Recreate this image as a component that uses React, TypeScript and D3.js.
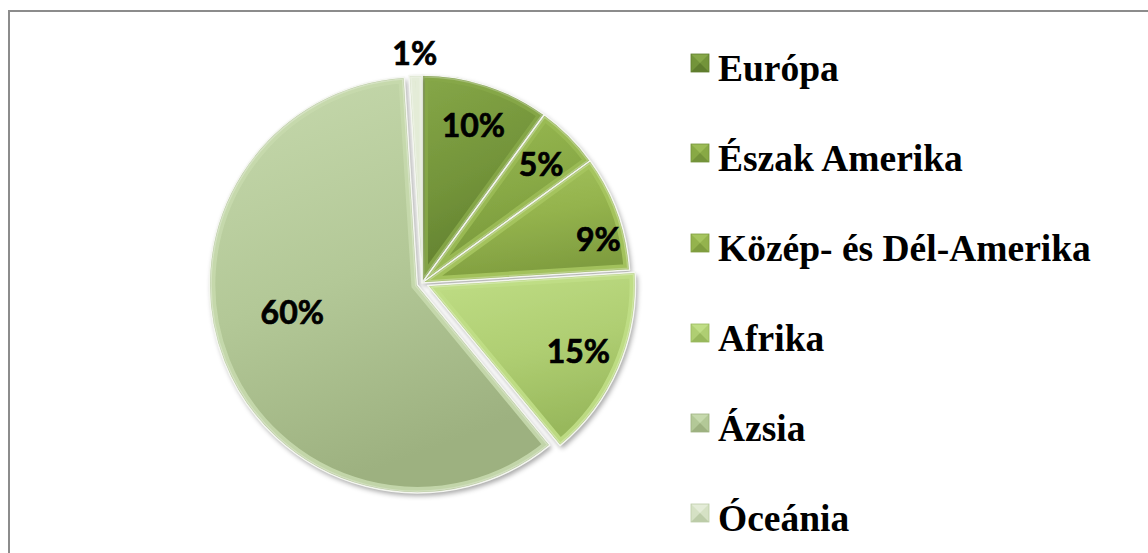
import React from "react";
import * as d3 from "d3";

const categories = ["Európa", "Észak Amerika", "Közép- és Dél-Amerika", "Afrika", "Ázsia", "Óceánia"];
const values = [10, 5, 9, 15, 60, 1];
const labels = ["10%", "5%", "9%", "15%", "60%", "1%"];

const colors = ["#73943a", "#88a945", "#94b34d", "#afce72", "#b3c897", "#d5e1c4"];
const darkColors = ["#5f7d2e", "#74933a", "#7f9d3f", "#98b85c", "#9db180", "#bccca8"];
const lightColors = ["#86a748", "#9bbb55", "#a6c55f", "#c0de86", "#c6d9ad", "#e4ecd8"];
const explode = [0, 0, 0, 6, 5, 0];
const labelFactor = [0.8, 0.81, 0.875, 0.79, 0.615, 1.11];
const labelAngleShift = [0, 0, 5.5, 0, 9, 0];

const W = 1148;
const H = 553;
const cx = 422;
const cy = 283;
const R = 208;

export default function App() {
  const pie = d3.pie<number>().sort(null).value((d) => d)(values);
  const arc = d3.arc<d3.PieArcDatum<number>>().innerRadius(0).outerRadius(R);

  const legendX = 691;
  const legendY = d3.scalePoint<string>().domain(categories).range([81, 531]);

  return (
    <svg width={W} height={H} style={{ position: "absolute", left: 0, top: 0 }}>
      <defs>
        <filter id="shadow" x="-20%" y="-20%" width="140%" height="140%">
          <feDropShadow dx="2" dy="3" stdDeviation="2.5" floodColor="#000" floodOpacity="0.35" />
        </filter>
        {pie.map((p, i) => (
          <React.Fragment key={i}>
            <linearGradient id={`g${i}`} x1="0" y1="0" x2="0.3" y2="1">
              <stop offset="0%" stopColor={lightColors[i]} />
              <stop offset="55%" stopColor={colors[i]} />
              <stop offset="100%" stopColor={darkColors[i]} />
            </linearGradient>
            <clipPath id={`c${i}`}>
              <path d={arc(p) || ""} />
            </clipPath>
          </React.Fragment>
        ))}
      </defs>
      <rect x={0} y={0} width={W} height={H} fill="#fff" />
      <path d={`M9,${H} L9,11 L${W},11`} fill="none" stroke="#8c8c8c" strokeWidth={2} />

      {pie.map((p, i) => {
        const mid = (p.startAngle + p.endAngle) / 2;
        const dx = Math.sin(mid) * explode[i];
        const dy = -Math.cos(mid) * explode[i];
        const d = arc(p) || "";
        return (
          <g key={i} transform={`translate(${cx + dx},${cy + dy})`}>
            <path d={d} fill={`url(#g${i})`} filter="url(#shadow)" />
            <g clipPath={`url(#c${i})`}>
              <path d={d} fill="none" stroke={lightColors[i]} strokeWidth={12} strokeOpacity={0.9} />
              <path d={d} fill="none" stroke="#ffffff" strokeWidth={5} strokeOpacity={0.25} />
              <path d={d} fill="none" stroke={darkColors[i]} strokeWidth={2} strokeOpacity={0.7} />
            </g>
            <path d={d} fill="none" stroke="#f4f6f0" strokeWidth={1.5} strokeLinejoin="round" />
          </g>
        );
      })}

      {pie.map((p, i) => {
        const mid = (p.startAngle + p.endAngle) / 2 + (labelAngleShift[i] * Math.PI) / 180;
        const r = R * labelFactor[i] + explode[i];
        return (
          <text
            key={"t" + i}
            x={cx + Math.sin(mid) * r}
            y={cy - Math.cos(mid) * r}
            textAnchor="middle"
            dominantBaseline="central"
            fontFamily="Lato, 'Open Sans', sans-serif"
            fontWeight="bold"
            fontSize={32}
            fill="#000"
            stroke="#000"
            strokeWidth={0.7}
          >
            {labels[i]}
          </text>
        );
      })}

      {categories.map((c, i) => {
        const y = legendY(c) as number;
        const s = 18;
        const x0 = legendX;
        const y0 = y - 27;
        const m = s / 2;
        return (
          <g key={"lg" + i}>
            <rect x={x0} y={y0} width={s} height={s} fill={colors[i]} />
            <path d={`M${x0},${y0} L${x0 + s},${y0} L${x0 + m},${y0 + m} Z`} fill={lightColors[i]} />
            <path d={`M${x0},${y0 + s} L${x0 + s},${y0 + s} L${x0 + m},${y0 + m} Z`} fill={darkColors[i]} />
            <rect x={x0} y={y0} width={s} height={s} fill="none" stroke={darkColors[i]} strokeWidth={0.8} />
            <text
              x={x0 + 27}
              y={y}
              fontFamily="'Liberation Serif', 'Times New Roman', serif"
              fontWeight="bold"
              fontSize={37.5}
              fill="#000"
            >
              {c}
            </text>
          </g>
        );
      })}
    </svg>
  );
}
